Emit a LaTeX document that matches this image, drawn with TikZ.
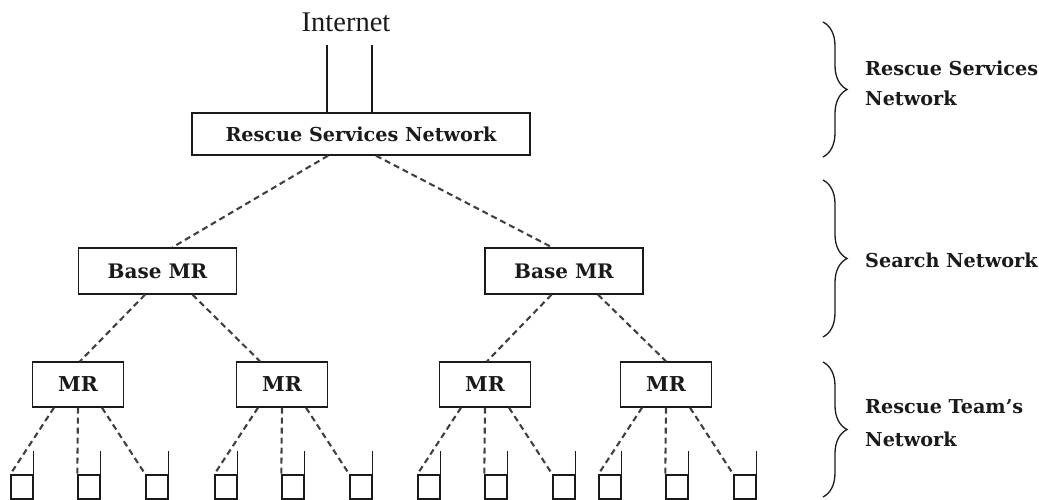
\documentclass[tikz,border=0pt]{standalone}
\usepackage{fontspec}
\setmainfont{DejaVu Serif}
\newfontfamily\inetfont{Liberation Serif}
\usetikzlibrary{decorations.pathreplacing}
\definecolor{ink}{HTML}{1A1A1A}
\definecolor{linkgray}{HTML}{404040}
\begin{document}
\begin{tikzpicture}[x=1pt,y=-1pt,
  box/.style={draw=ink, line width=1.4pt, inner sep=0pt, rectangle,
    font=\fontsize{19.2}{23}\selectfont\bfseries, text=ink},
  rsnbox/.style={box, minimum width=338pt, minimum height=42pt},
  basebox/.style={box, minimum width=158pt, minimum height=46pt,
    font=\fontsize{20}{24}\selectfont\bfseries},
  mrbox/.style={box, minimum width=91pt, minimum height=45pt,
    font=\fontsize{20.5}{24}\selectfont\bfseries},
  phone/.style={draw=ink, line width=1.4pt, inner sep=0pt, rectangle,
    minimum width=22pt, minimum height=24pt},
  link/.style={draw=linkgray, line width=2.1pt, dash pattern=on 6pt off 4pt},
  uplink/.style={draw=ink, line width=1.4pt},
  bracket/.style={draw=ink, line width=1.3pt, decorate,
    decoration={brace, amplitude=24pt}},
  lab/.style={inner sep=0pt, font=\fontsize{19.2}{23}\selectfont\bfseries, text=ink}
]
\useasboundingbox (0,0) rectangle (1039,500);

% Internet uplink
\node[inner sep=0pt, anchor=base, font=\inetfont\fontsize{28.5}{32}\selectfont, text=ink]
  (inet) at (346,32) {Internet};
\coordinate (inetfoot) at (346,45);

% top level
\node[rsnbox] (rsn) at (361,134) {Rescue Services Network};
\coordinate (up1) at ([xshift=-34pt]rsn.north);
\coordinate (up2) at ([xshift=11pt]rsn.north);
\draw[uplink] (up1) -- (up1 |- inetfoot);
\draw[uplink] (up2) -- (up2 |- inetfoot);

% base stations
\node[basebox] (baseL) at (157.5,271) {Base MR};
\node[basebox] (baseR) at (564,271) {Base MR};
\draw[link] ([xshift=-33pt]rsn.south) -- ([xshift=15pt]baseL.north);
\draw[link] ([xshift=15pt]rsn.south) -- ([xshift=-12pt]baseR.north);

% mobile routers
\node[mrbox] (mr1) at (78,384.5) {MR};
\node[mrbox] (mr2) at (282,384.5) {MR};
\node[mrbox] (mr3) at (485,384.5) {MR};
\node[mrbox] (mr4) at (666,384.5) {MR};
\draw[link] ([xshift=-12.5pt]baseL.south) -- ([xshift=2pt]mr1.north);
\draw[link] ([xshift=35pt]baseL.south) -- ([xshift=-22pt]mr2.north);
\draw[link] ([xshift=-12.5pt]baseR.south) -- ([xshift=2pt]mr3.north);
\draw[link] ([xshift=34pt]baseR.south) -- ([xshift=0pt]mr4.north);

% handsets under each router
\foreach \m/\c in {1/78, 2/282, 3/485, 4/666}{
  \foreach \k/\dx in {a/-67, b/0, c/68}{
    \node[phone] (ph\m\k) at (\c+\dx+11,487) {};
    \draw[uplink] (ph\m\k.north east) -- ++(0,-23);
  }
  \draw[link] ([xshift=-24pt]mr\m.south) -- (ph\m a.north west);
  \draw[link] (mr\m.south) -- (ph\m b.north west);
  \draw[link] ([xshift=24pt]mr\m.south) -- (ph\m c.north west);
}

% tier brackets
\draw[bracket] (823,22) -- (823,157);
\draw[bracket] (823,180) -- (823,337);
\draw[bracket] (823,362) -- (823,497);
\node[lab, anchor=base west] (t1a) at (865,76) {Rescue Services};
\node[lab, anchor=base west] (t1b) at (865,106) {Network};
\node[lab, anchor=base west] (t2) at (865,267) {Search Network};
\node[lab, anchor=base west] (t3a) at (865,413) {Rescue Team’s};
\node[lab, anchor=base west] (t3b) at (865,446) {Network};
\end{tikzpicture}
\end{document}
